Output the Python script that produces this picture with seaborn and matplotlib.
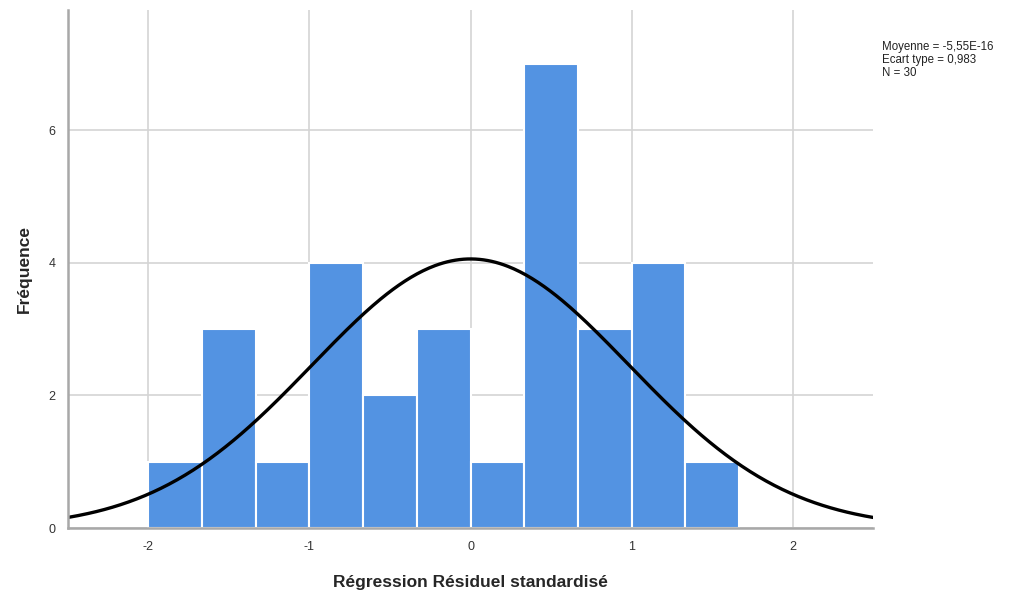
import numpy as np
import pandas as pd
import matplotlib
matplotlib.use('Agg')
import matplotlib.pyplot as plt
import seaborn as sb

# histogram data
bin_edges = [-2.0, -1.6667, -1.3333, -1.0, -0.6667, -0.3333, 0.0, 0.3333, 0.6667, 1.0, 1.3333, 1.6667]
counts = [1, 3, 1, 4, 2, 3, 1, 7, 3, 4, 1]
mean_val = -5.55e-16
sd_val = 0.983
n_obs = 30
stats_lines = ['Moyenne = -5,55E-16', 'Ecart type = 0,983', 'N = 30']
x_ticks = [-2, -1, 0, 1, 2]
y_ticks = [0, 2, 4, 6]

sb.set_style('white')
plt.rcParams['font.family'] = ['Liberation Sans', 'DejaVu Sans']

centers = [(bin_edges[i] + bin_edges[i + 1]) / 2 for i in range(len(counts))]
df = pd.DataFrame({'resid': centers, 'count': counts})

fig = plt.figure(figsize=(10.3, 5.98), dpi=100)
ax = fig.add_axes([0.066, 0.117, 0.7816, 0.866])
ax.set_axisbelow(True)
ax.grid(True, color='#d4d4d4', linewidth=1.2)

sb.histplot(data=df, x='resid', weights='count', bins=bin_edges, ax=ax,
            color='#5393e2', alpha=1, edgecolor='white', linewidth=1.5)

# normal curve scaled to counts
bw = bin_edges[1] - bin_edges[0]
xs = np.linspace(-2.5, 2.5, 400)
ys = n_obs * bw * np.exp(-0.5 * ((xs - mean_val) / sd_val) ** 2) / (sd_val * np.sqrt(2 * np.pi))
ax.plot(xs, ys, color='black', linewidth=2.4)

ax.set_xlim(-2.5, 2.5)
ax.set_ylim(0, 7.81)
ax.set_xticks(x_ticks)
ax.set_yticks(y_ticks)
ax.set_xticklabels([str(t) for t in x_ticks])
ax.tick_params(length=0, labelsize=9, colors='#333333', pad=9)
for s in ['top', 'right']:
    ax.spines[s].set_visible(False)
for s in ['left', 'bottom']:
    ax.spines[s].set_color('#a8a8a8')
    ax.spines[s].set_linewidth(1.8)

ax.set_xlabel('Régression Résiduel standardisé', fontsize=12.5, fontweight='bold', labelpad=16)
ax.set_ylabel('Fréquence', fontsize=12.5, fontweight='bold', labelpad=12)

fig.text(0.856, 0.932, '\n'.join(stats_lines), fontsize=8.3, va='top', ha='left',
         linespacing=1.15, color='#222222')

fig.savefig('out.png', dpi=100)
